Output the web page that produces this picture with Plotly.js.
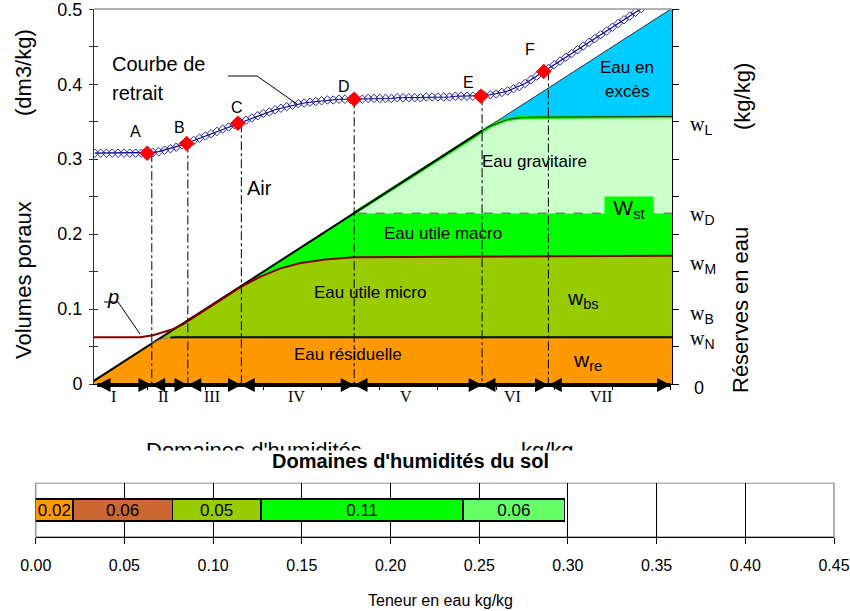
<!DOCTYPE html>
<html><head><meta charset="utf-8">
<script src="https://cdn.plot.ly/plotly-3.0.1.min.js"></script>
<style>html,body{margin:0;padding:0;background:#fff}#chart{width:850px;height:611px}</style>
</head><body><div id="chart"></div>
<script>
// ---------------- DATA ----------------
// Shrinkage curve (Courbe de retrait): water content (kg/kg) vs pore volume (dm3/kg)
const shrinkW = [0.005,0.010,0.015,0.020,0.025,0.030,0.035,0.040,0.045,0.050,
 0.055,0.060,0.065,0.070,0.075,0.080,0.085,0.090,0.095,0.100,
 0.105,0.110,0.115,0.120,0.125,0.130,0.135,0.140,0.145,0.150,
 0.155,0.160,0.165,0.170,0.175,0.180,0.185,0.190,0.195,0.200,
 0.205,0.210,0.215,0.220,0.225,0.230,0.235,0.240,0.245,0.250,
 0.255,0.260,0.265,0.270,0.275,0.280,0.285,0.290,0.295,0.300,
 0.305,0.310,0.315,0.320,0.325,0.330,0.335,0.340,0.345,0.350,
 0.355,0.360,0.365,0.370,0.375,0.380,0.385,0.390,0.395,0.400,
 0.405,0.410,0.415,0.420,0.425,0.430,0.435,0.440,0.445,0.450,
 0.455,0.460,0.465,0.470,0.475];
const shrinkV = [0.308,0.308,0.308,0.308,0.308,0.308,0.308,0.308,0.308,0.308,
 0.309,0.310,0.312,0.314,0.316,0.319,0.322,0.325,0.328,0.331,
 0.334,0.337,0.340,0.343,0.346,0.349,0.352,0.355,0.358,0.361,
 0.363,0.366,0.368,0.370,0.372,0.374,0.375,0.376,0.377,0.378,
 0.379,0.379,0.380,0.380,0.380,0.380,0.380,0.381,0.381,0.381,
 0.381,0.381,0.382,0.382,0.382,0.382,0.382,0.383,0.383,0.383,
 0.383,0.383,0.384,0.384,0.384,0.384,0.385,0.385,0.386,0.387,
 0.389,0.391,0.394,0.397,0.401,0.406,0.411,0.416,0.421,0.426,
 0.431,0.436,0.441,0.446,0.451,0.456,0.461,0.466,0.471,0.476,
 0.481,0.486,0.491,0.496,0.501];
// Characteristic points
const pointNames = ['A','B','C','D','E','F'];
const pointW = [0.050,0.084,0.128,0.228,0.337,0.391];
const pointV = [0.308,0.321,0.348,0.380,0.384,0.417];
// Moisture domains (top chart)
const domainNames = ['I','II','III','IV','V','VI','VII'];
const domainBounds = [0.007,0.054,0.085,0.131,0.228,0.338,0.395,0.500];
// Saturation line (volume = water content)
const satW = [0,0.054,0.087,0.130,0.228,0.338,0.5013];
const satV = [0,0.054,0.087,0.130,0.228,0.338,0.5013];
// Residual water upper boundary (w_N)
const orangeTopW = [0,0.054,0.060,0.065,0.070,0.076,0.5013];
const orangeTopV = [0,0.054,0.059,0.061,0.062,0.0625,0.0625];
// Micro useful water upper boundary (w_M) - curve p
const brownW = [0.0043,0.044,0.055,0.070,0.080,0.087,0.130,0.147,0.164,0.181,0.203,0.228,0.350,0.5013];
const brownV = [0.0625,0.0625,0.065,0.072,0.079,0.086,0.129,0.143,0.154,0.161,0.166,0.169,0.170,0.171];
// Gravitational water upper boundary (w_L)
const gravW = [0.338,0.345,0.353,0.360,0.368,0.380,0.5013];
const gravV = [0.338,0.344,0.349,0.353,0.355,0.356,0.357];
// Level w_D
const levelD = 0.228;
// Left axis ticks
const leftTickVals = [0,0.05,0.1,0.15,0.2,0.25,0.3,0.35,0.4,0.45,0.5];
const leftTickText = ['0','','0.1','','0.2','','0.3','','0.4','','0.5'];
// Bottom chart: moisture domains of the soil
const barValues = [0.021,0.056,0.050,0.114,0.057];
const barLabels = ['0.02','0.06','0.05','0.11','0.06'];

// ---------------- STYLE / LAYOUT HELPERS ----------------
const W = 850, H = 611;
const px = x => x / W;
const py = y => (H - y) / H;
const SANS = 'Liberation Sans, Arial, sans-serif';
const SERIF = 'Liberation Serif, Times New Roman, serif';
const barColors = ['#FF9900','#CC6633','#99CC00','#00FF00','#66FF66'];
const xEnd = satW[satW.length-1];
const yTop = 0.5004;

const traces = [];
function fillTrace(x, y, color) {
  return {type:'scatter', mode:'lines', x, y, fill:'toself', fillcolor:color,
    line:{width:0, color:color}, hoverinfo:'skip', xaxis:'x', yaxis:'y'};
}
function lineTrace(x, y, color, width, dash) {
  return {type:'scatter', mode:'lines', x, y, line:{color, width, dash:dash||'solid'},
    hoverinfo:'skip', xaxis:'x', yaxis:'y'};
}
// Regions
traces.push(fillTrace([...orangeTopW, xEnd, 0], [...orangeTopV, 0, 0], '#FF9900'));
traces.push(fillTrace([satW[1], ...brownW.slice(5), ...orangeTopW.slice(1).reverse()],
                      [satV[1], ...brownV.slice(5), ...orangeTopV.slice(1).reverse()], '#99CC00'));
traces.push(fillTrace([...brownW.slice(6), xEnd, satW[4], satW[3]],
                      [...brownV.slice(6), levelD, levelD, satV[3]], '#00FF00'));
traces.push(fillTrace([satW[4], ...gravW, xEnd], [levelD, ...gravV, levelD], '#CCFFCC'));
traces.push(fillTrace([...gravW, xEnd], [...gravV, satV[6]], '#00CCFF'));
// Boundary lines
traces.push(lineTrace([satW[4], ...gravW], [satV[4], ...gravV], '#00EE00', 3.5));
traces.push(lineTrace(gravW, gravV, '#222', 1));
traces.push(lineTrace(satW.slice(0,6), satV.slice(0,6), '#000', 2));
traces.push(lineTrace(satW.slice(5), satV.slice(5), '#333', 1));
traces.push(lineTrace(orangeTopW.slice(1,5), orangeTopV.slice(1,5), '#777', 1));
traces.push(lineTrace(orangeTopW.slice(4), orangeTopV.slice(4), '#000', 2));
traces.push(lineTrace(brownW, brownV, '#800000', 2));
traces.push(lineTrace([0.231, xEnd], [levelD, levelD], '#555', 1, 'dash'));
// Vertical dash-dot lines at domain boundaries
const vx = [], vy = [];
for (let i = 1; i < domainBounds.length - 1; i++) {
  vx.push(domainBounds[i], domainBounds[i], null);
  vy.push(pointV[i-1], 0, null);
}
traces.push(lineTrace(vx, vy, '#000', 1, 'dashdot'));
// Shrinkage curve
traces.push({type:'scatter', mode:'lines+markers', x:shrinkW, y:shrinkV, xaxis:'x', yaxis:'y',
  line:{color:'#000080', width:1.2},
  marker:{symbol:'diamond-open', size:6.5, color:'#2828A8', line:{width:1}}, hoverinfo:'skip'});
traces.push({type:'scatter', mode:'markers', x:pointW, y:pointV, xaxis:'x', yaxis:'y',
  marker:{symbol:'diamond', size:12, color:'#FF0000', line:{width:0}}, hoverinfo:'skip'});
// dummy traces to activate overlay axes
traces.push({type:'scatter', mode:'markers', x:[0.2], y:[0.2], xaxis:'x', yaxis:'y3', marker:{opacity:0}, hoverinfo:'skip'});
traces.push({type:'scatter', mode:'markers', x:[0.2], y:[0.2], xaxis:'x', yaxis:'y4', marker:{opacity:0}, hoverinfo:'skip'});
// Bottom stacked bar
barValues.forEach((v, i) => {
  traces.push({type:'bar', orientation:'h', x:[v], y:[0], xaxis:'x2', yaxis:'y2', width:0.4,
    marker:{color:barColors[i], line:{color:'#000', width:1.5}},
    text:[barLabels[i]], textposition:'inside', insidetextanchor:'middle', constraintext:'none',
    textfont:{size:17, color:'#000', family:SANS}, hoverinfo:'skip'});
});

// ---------------- SHAPES ----------------
const shapes = [];
shapes.push({type:'line', xref:'paper', yref:'paper', x0:px(94), x1:px(672), y0:py(9), y1:py(9), line:{color:'#999', width:1.5}});
shapes.push({type:'rect', xref:'paper', yref:'paper', x0:px(35.7), x1:px(834), y0:py(537), y1:py(483), line:{color:'#999', width:1.5}, layer:'below'});
const axY = 385, triDX = 0.0115, triH = 7;
shapes.push({type:'line', xref:'x', yref:'paper', x0:domainBounds[0], x1:domainBounds[domainBounds.length-1], y0:py(axY), y1:py(axY), line:{color:'#000', width:4}});
for (let i = 0; i < domainBounds.length - 1; i++) {
  const a = domainBounds[i], b = domainBounds[i+1];
  shapes.push({type:'path', xref:'x', yref:'paper', fillcolor:'#000', line:{width:0},
    path:`M ${a},${py(axY)} L ${a+triDX},${py(axY-triH)} L ${a+triDX},${py(axY+triH)} Z`});
  shapes.push({type:'path', xref:'x', yref:'paper', fillcolor:'#000', line:{width:0},
    path:`M ${b},${py(axY)} L ${b-triDX},${py(axY-triH)} L ${b-triDX},${py(axY+triH)} Z`});
}
shapes.push({type:'path', xref:'paper', yref:'paper', line:{color:'#000', width:1},
  path:`M ${px(228)},${py(76)} L ${px(257)},${py(76)} L ${px(297)},${py(104)}`});
shapes.push({type:'path', xref:'paper', yref:'paper', line:{color:'#000', width:1},
  path:`M ${px(104)},${py(302)} L ${px(118)},${py(302)} L ${px(140)},${py(334)}`});

// ---------------- ANNOTATIONS ----------------
function T(text, x, y, o) {
  const base = {text, x:px(x), y:py(y), xref:'paper', yref:'paper', showarrow:false,
    xanchor:'center', yanchor:'middle', font:{size:17, family:SANS, color:'#000'}};
  o = o || {};
  if (o.font) { base.font = Object.assign({}, base.font, o.font); delete o.font; }
  return Object.assign(base, o);
}
const ann = [];
const labelShift = [[-12,22],[-7,16],[-1,16],[-10,13],[-12,14],[-14,22]];
pointNames.forEach((n, i) => {
  ann.push({text:n, x:pointW[i], y:pointV[i], xref:'x', yref:'y', showarrow:false,
    xshift:labelShift[i][0], yshift:labelShift[i][1], font:{size:16, family:SANS, color:'#000'}});
});
const romanPos = [0.021,0.064,0.106,0.178,0.273,0.364,0.440];
domainNames.forEach((n, i) => {
  ann.push({text:n, x:romanPos[i], y:py(397), xref:'x', yref:'paper', showarrow:false,
    font:{size:16, family:SERIF, color:'#000'}});
});
ann.push(T('Courbe de', 110, 64, {xanchor:'left', font:{size:20}}));
ann.push(T('retrait', 110, 93, {xanchor:'left', font:{size:20}}));
ann.push(T('Air', 259, 188, {font:{size:20}}));
ann.push(T('<i>p</i>', 113, 297, {font:{size:20}}));
ann.push(T('Eau gravitaire', 534, 161));
ann.push(T('Eau en', 627, 68));
ann.push(T('excès', 627, 92));
ann.push(T('Eau utile macro', 443, 233));
ann.push(T('Eau utile micro', 370, 292));
ann.push(T('Eau résiduelle', 348, 355));
ann.push(T('w<sub>bs</sub>', 583, 299, {font:{size:21}}));
ann.push(T('w<sub>re</sub>', 587, 361, {font:{size:21}}));
ann.push(T('W<sub>st</sub>', 629, 209, {font:{size:21}, bgcolor:'#00FF00', width:48, height:24, borderpad:0}));
const sub = s => `w<sub><span style="font-family:Liberation Sans">${s}</span></sub>`;
[['L',125],['D',215],['M',264],['B',314],['N',339]].forEach(r => {
  ann.push(T(sub(r[0]), 688, r[1], {xanchor:'left', font:{size:20, family:SERIF}}));
});
ann.push(T('0', 692, 388, {xanchor:'left', font:{size:18}}));
ann.push(T('Volumes poraux', 23, 280, {textangle:-90, font:{size:22}}));
ann.push(T('(dm3/kg)', 23, 73, {textangle:-90, font:{size:22}}));
ann.push(T('(kg/kg)', 742, 97, {textangle:-90, font:{size:22}}));
ann.push(T('Réserves en eau', 740, 310, {textangle:-90, font:{size:22}}));
// clipped x-axis title of top chart, hidden by the bottom chart area
ann.push(T("Domaines d'humidités", 254, 450, {font:{size:22}}));
ann.push(T('kg/kg', 547, 450, {font:{size:22}}));
ann.push(T('&nbsp;', 425, 466.5, {width:850, height:31, bgcolor:'#FFFFFF', borderpad:0}));
ann.push(T("<b>Domaines d'humidités du sol</b>", 410, 461, {font:{size:20}}));
ann.push(T('Teneur en eau kg/kg', 440, 600, {font:{size:16}}));

const layout = {
  width:W, height:H, margin:{l:0, r:0, t:0, b:0},
  paper_bgcolor:'#FFFFFF', plot_bgcolor:'rgba(0,0,0,0)',
  showlegend:false, hovermode:false, barmode:'stack',
  font:{family:SANS, color:'#000', size:16},
  xaxis:{domain:[px(94), px(672)], range:[0.0043, 0.5013], anchor:'y', showline:true, linecolor:'#000',
    ticks:'outside', ticklen:5, tickcolor:'#000', dtick:0.05, tick0:0, showticklabels:false,
    showgrid:false, zeroline:false, fixedrange:true},
  yaxis:{domain:[py(384), py(9)], range:[0, yTop], anchor:'x', showline:true, linecolor:'#333',
    ticks:'outside', ticklen:4, tickcolor:'#333', tickvals:leftTickVals, ticktext:leftTickText,
    tickfont:{size:18}, showgrid:false, zeroline:false, ticklabelstandoff:3, fixedrange:true,
    ticklabeloverflow:'allow'},
  yaxis3:{overlaying:'y', side:'right', anchor:'x', range:[0, yTop], showline:true, linecolor:'#000',
    ticks:'outside', ticklen:6, tickcolor:'#000', dtick:0.05, tick0:0, showticklabels:false,
    showgrid:false, zeroline:false},
  yaxis4:{overlaying:'y', side:'left', anchor:'x', range:[0, yTop], showline:false,
    ticks:'inside', ticklen:4, tickcolor:'#333', dtick:0.05, tick0:0, showticklabels:false,
    showgrid:false, zeroline:false},
  xaxis2:{domain:[px(35.7), px(834)], range:[0, 0.45], anchor:'y2', dtick:0.05, tick0:0, tickformat:'.2f',
    ticks:'outside', ticklen:6, tickcolor:'#000', showline:true, linecolor:'#000', showgrid:true,
    gridcolor:'#000', gridwidth:1, zeroline:false, tickfont:{size:16}, ticklabelstandoff:8,
    ticklabeloverflow:'allow'},
  yaxis2:{domain:[py(537), py(483)], range:[-0.5, 0.5], anchor:'x2', showticklabels:false,
    showgrid:false, zeroline:false, ticks:''},
  shapes, annotations:ann
};
Plotly.newPlot('chart', traces, layout, {displayModeBar:false, staticPlot:true});
</script></body></html>
